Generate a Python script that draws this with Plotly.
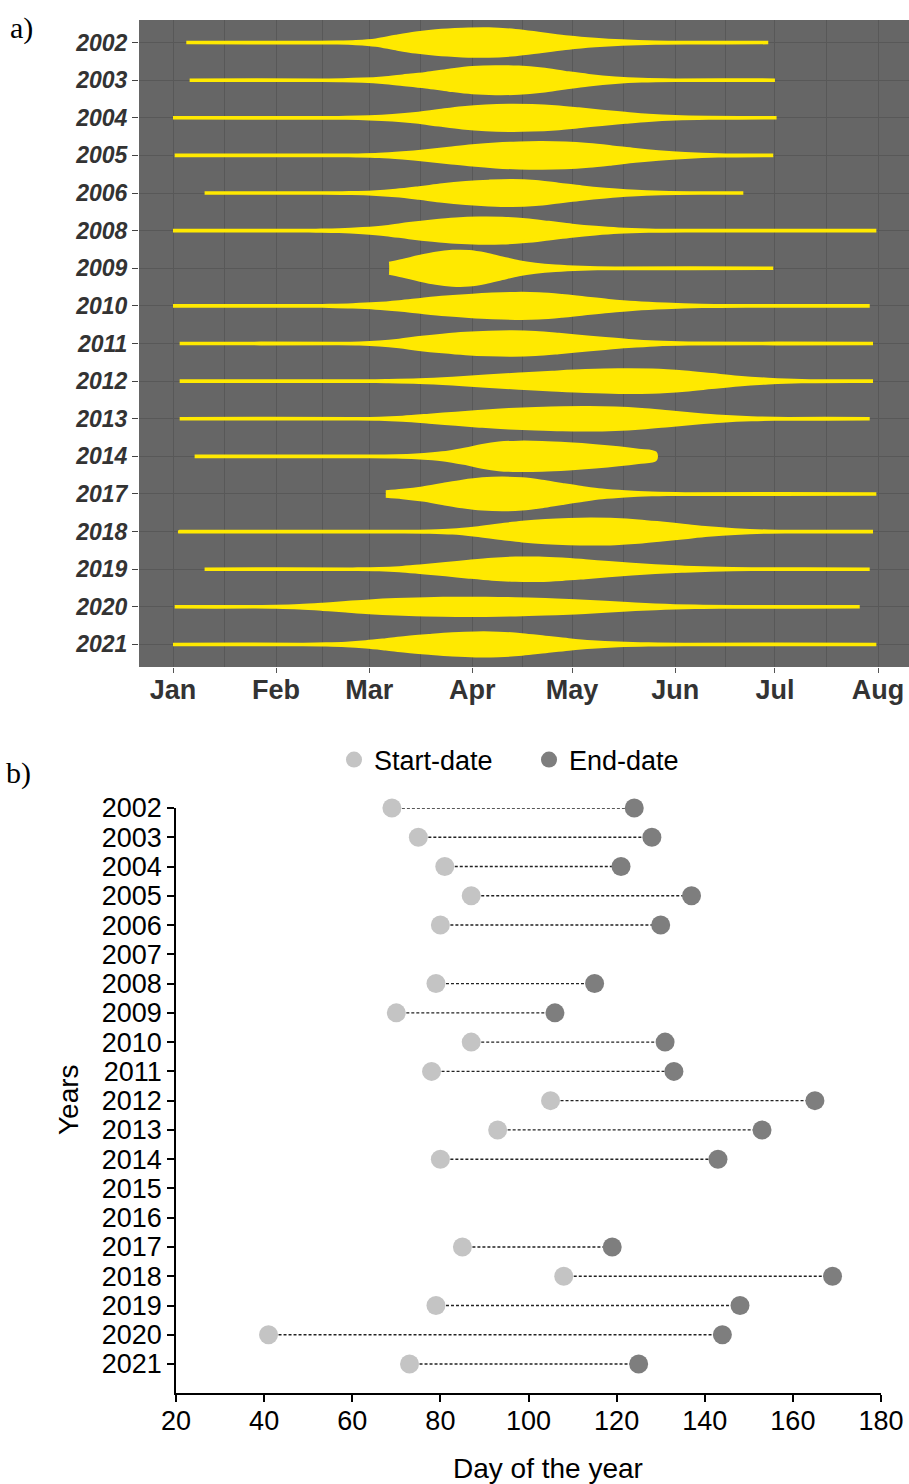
import plotly.graph_objects as go

# ---------------- Panel a: violin density profiles ----------------
violin_years = ["2002", "2003", "2004", "2005", "2006", "2008", "2009", "2010",
                "2011", "2012", "2013", "2014", "2017", "2018", "2019", "2020", "2021"]

# day of year (Jan 1 = 1) and relative density (half-width units)
days_2002 = [5, 40, 50, 56, 62, 68, 74, 80, 88, 96, 104, 112, 120, 128, 136, 146, 158, 180]
dens_2002 = [0, 0, 0.2, 0.8, 2.4, 6, 9.2, 11.5, 13, 13.4, 11.8, 8.6, 5.3, 3, 1.4, 0.3, 0, 0]
days_2003 = [6, 45, 52, 58, 64, 70, 77, 84, 91, 98, 105, 112, 119, 126, 134, 142, 152, 182]
dens_2003 = [0, 0, 0.2, 0.8, 2, 4, 6.5, 9.7, 12.3, 13.2, 12.8, 10.8, 7.5, 4.5, 2, 0.6, 0, 0]
days_2004 = [1, 45, 53, 60, 67, 74, 81, 88, 95, 102, 109, 116, 123, 130, 137, 144, 152, 162, 182.5]
dens_2004 = [0, 0, 0.2, 0.8, 2, 4, 7, 9.8, 11.6, 12.3, 12, 10.8, 8.7, 6.3, 4.2, 2.3, 0.9, 0.2, 0]
days_2005 = [1.5, 48, 56, 63, 70, 77, 84, 91, 98, 105, 112, 119, 126, 133, 140, 147, 155, 165, 181.5]
dens_2005 = [0, 0, 0.2, 0.8, 2.4, 4.5, 7, 9.4, 11.2, 12.2, 12.5, 12, 10.5, 8.2, 5.6, 3.5, 1.7, 0.4, 0]
days_2006 = [10.5, 46, 54, 61, 68, 75, 82, 89, 96, 103, 110, 117, 124, 131, 139, 148, 160, 172.5]
dens_2006 = [0, 0, 0.2, 0.8, 2.4, 5, 8, 10.2, 11.6, 12.2, 11.2, 8.6, 5.8, 3.6, 1.7, 0.5, 0, 0]
days_2008 = [1, 36, 44, 51, 58, 65, 72, 79, 86, 93, 100, 107, 114, 121, 128, 135, 144, 155, 212.5]
dens_2008 = [0, 0, 0.2, 0.6, 1.8, 3.7, 6.8, 9.4, 11.4, 12.3, 12.1, 10.6, 8, 5.2, 3, 1.4, 0.4, 0, 0]
days_2009 = [66, 70, 75, 80, 85, 90, 95, 100, 105, 110, 116, 124, 134, 181.5]
dens_2009 = [4.7, 7.5, 11.5, 14.8, 16.6, 16.5, 14, 10, 6.2, 3.8, 2, 0.7, 0, 0]
days_2010 = [1, 40, 48, 55, 62, 69, 76, 83, 90, 97, 104, 111, 118, 125, 132, 140, 149, 160, 175, 210.5]
dens_2010 = [0, 0, 0.3, 0.9, 2, 3.9, 6.3, 8.5, 10.2, 11.5, 12.2, 11.9, 10.1, 7.6, 5.2, 3, 1.5, 0.4, 0, 0]
days_2011 = [3, 50, 57, 63, 69, 75, 82, 89, 96, 103, 110, 117, 124, 131, 138, 146, 156, 211.5]
dens_2011 = [0, 0, 0.3, 1.2, 3, 5.6, 8, 9.9, 11, 11.4, 10.8, 9, 6.8, 4.6, 2.7, 1.1, 0.2, 0]
days_2012 = [3, 55, 65, 75, 85, 95, 105, 115, 125, 135, 145, 155, 163, 171, 180, 190, 211.5]
dens_2012 = [0, 0, 0.3, 1, 2.6, 4.8, 6.8, 8.6, 10.2, 11.1, 10.8, 8.8, 6.2, 3.6, 1.6, 0.3, 0]
days_2013 = [3, 55, 63, 70, 78, 86, 94, 102, 110, 118, 126, 134, 142, 150, 158, 166, 175, 186, 210.5]
dens_2013 = [0, 0, 0.3, 1.3, 3.2, 5.3, 7.3, 8.9, 10, 10.8, 11, 10.4, 8.9, 6.6, 4.2, 2.2, 0.8, 0, 0]
days_2014 = [7.5, 60, 68, 74, 79, 84, 89, 94, 99, 105, 112, 120, 128, 135, 141, 146]
dens_2014 = [0, 0, 0.3, 1, 2.2, 4, 7, 10.6, 13, 13.9, 13.6, 12.3, 10.4, 8.2, 5.8, 3.3]
days_2017 = [65, 70, 76, 82, 88, 94, 100, 106, 112, 118, 124, 130, 137, 145, 155, 212.5]
dens_2017 = [2, 3.4, 5.8, 9.2, 12.5, 14.8, 15.6, 14.8, 12.4, 9.2, 6.2, 3.6, 1.8, 0.6, 0, 0]
days_2018 = [3, 70, 78, 85, 92, 99, 106, 113, 120, 127, 134, 141, 148, 155, 162, 170, 180, 211.5]
dens_2018 = [0, 0, 0.3, 1.2, 3.4, 6.3, 9, 10.9, 11.9, 12.2, 11.8, 10.4, 8.2, 5.8, 3.5, 1.6, 0.3, 0]
days_2019 = [10.5, 55, 63, 69, 76, 83, 90, 97, 104, 111, 118, 125, 132, 139, 146, 154, 163, 175, 210.5]
dens_2019 = [0, 0, 0.3, 1.2, 3.2, 5.3, 7.7, 9.7, 10.8, 10.9, 9.9, 8.2, 6.3, 4.6, 3.1, 1.8, 0.8, 0.1, 0]
days_2020 = [1.5, 25, 32, 39, 46, 53, 60, 68, 77, 86, 95, 104, 113, 122, 131, 140, 149, 158, 170, 207.5]
dens_2020 = [0, 0, 0.2, 0.9, 2.3, 4, 5.6, 6.9, 7.8, 8.3, 8.3, 7.8, 7, 5.8, 4.2, 2.5, 1.2, 0.4, 0, 0]
days_2021 = [1, 40, 47, 53, 59, 65, 71, 78, 85, 92, 99, 106, 113, 120, 127, 135, 144, 155, 212.5]
dens_2021 = [0, 0, 0.3, 1, 2.4, 4.4, 6.6, 8.6, 10.3, 11.2, 11, 9.5, 7, 4.5, 2.5, 1.1, 0.3, 0, 0]

violin_days = [days_2002, days_2003, days_2004, days_2005, days_2006, days_2008, days_2009,
               days_2010, days_2011, days_2012, days_2013, days_2014, days_2017, days_2018,
               days_2019, days_2020, days_2021]
violin_dens = [dens_2002, dens_2003, dens_2004, dens_2005, dens_2006, dens_2008, dens_2009,
               dens_2010, dens_2011, dens_2012, dens_2013, dens_2014, dens_2017, dens_2018,
               dens_2019, dens_2020, dens_2021]

month_names = ["Jan", "Feb", "Mar", "Apr", "May", "Jun", "Jul", "Aug"]
month_start_doy = [1, 32, 60, 91, 121, 152, 182, 213]
mid_month_doy = [16.5, 46, 75.5, 106, 136.5, 167, 197.5]

# ---------------- Panel b: start / end dates ----------------
dumbbell_years = [2002, 2003, 2004, 2005, 2006, 2008, 2009, 2010, 2011, 2012,
                  2013, 2014, 2017, 2018, 2019, 2020, 2021]
start_doy = [69, 75, 81, 87, 80, 79, 70, 87, 78, 105, 93, 80, 85, 108, 79, 41, 73]
end_doy = [124, 128, 121, 137, 130, 115, 106, 131, 133, 165, 153, 143, 119, 169, 148, 144, 125]
year_ticks = list(range(2002, 2022))
doy_ticks = [20, 40, 60, 80, 100, 120, 140, 160, 180]

# ---------------- styling ----------------
W, H = 909, 1484
SANS = "Liberation Sans, Arial, sans-serif"
SERIF = "Liberation Serif, Times New Roman, serif"
YEL = "#FFE900"
PANEL_BG = "#666666"
GRID = "#585858"
ROW_PX = 37.6          # pixel height of one violin row
WSCALE = 1.0 / ROW_PX  # density unit -> row units

fig = go.Figure()

for i, (d, v) in enumerate(zip(violin_days, violin_dens)):
    xs = list(d) + list(d[::-1])
    ys = [i + w * WSCALE for w in v] + [i - w * WSCALE for w in v[::-1]]
    fig.add_trace(go.Scatter(
        x=xs, y=ys, mode="lines", fill="toself", fillcolor=YEL,
        line=dict(color=YEL, width=3.6, shape="spline", smoothing=1.0),
        xaxis="x", yaxis="y", showlegend=False, hoverinfo="skip"))

# dashed connectors
lx, ly = [], []
for yr, s, e in zip(dumbbell_years, start_doy, end_doy):
    lx += [s, e, None]
    ly += [yr, yr, None]
fig.add_trace(go.Scatter(x=lx, y=ly, mode="lines",
                         line=dict(color="#222222", width=1.4, dash="3px,2px"),
                         xaxis="x2", yaxis="y2", showlegend=False, hoverinfo="skip",
                         cliponaxis=False))
fig.add_trace(go.Scatter(x=start_doy, y=dumbbell_years, mode="markers", name="Start-date",
                         marker=dict(color="#C4C4C4", size=19),
                         xaxis="x2", yaxis="y2", cliponaxis=False))
fig.add_trace(go.Scatter(x=end_doy, y=dumbbell_years, mode="markers", name="End-date",
                         marker=dict(color="#7E7E7E", size=19),
                         xaxis="x2", yaxis="y2", cliponaxis=False))

def px_x(p):
    return p / W

def px_y(p):
    return 1 - p / H

a_left, a_right, a_top, a_bottom = 139, 909, 20, 667
jan_px, aug_px = 173, 878
ppd = (aug_px - jan_px) / (213 - 1)
xr_a = [1 + (a_left - jan_px) / ppd, 1 + (a_right - jan_px) / ppd]

fig.update_layout(
    width=W, height=H,
    margin=dict(l=0, r=0, t=0, b=0, pad=0, autoexpand=False),
    paper_bgcolor="white", plot_bgcolor="white",
    font=dict(family=SANS, color="black"),
    xaxis=dict(domain=[px_x(a_left), 1], range=xr_a, anchor="y",
               tickmode="array", tickvals=month_start_doy, ticktext=month_names,
               ticks="outside", ticklen=5, tickwidth=1.3, tickcolor="#555555",
               ticklabelstandoff=-6,
               tickfont=dict(family=SANS, size=27, color="#333333", weight="bold"),
               showgrid=True, gridcolor=GRID, gridwidth=1.4, zeroline=False, showline=False,
               automargin=False,
               minor=dict(tickmode="array", tickvals=mid_month_doy, showgrid=True,
                          gridcolor=GRID, gridwidth=0.9, ticks="")),
    yaxis=dict(domain=[px_y(a_bottom), px_y(a_top)], range=[16.6, -0.6], anchor="x",
               tickmode="array", tickvals=list(range(len(violin_years))), ticktext=violin_years,
               ticks="outside", ticklen=6, tickwidth=1.3, tickcolor="#444444",
               tickfont=dict(family=SANS, size=23, color="#333333", weight="bold", style="italic"),
               showgrid=True, gridcolor=GRID, gridwidth=1.4, zeroline=False, showline=False,
               automargin=False),
    xaxis2=dict(domain=[px_x(176), px_x(881)], range=[20, 180], anchor="y2",
                tickmode="array", tickvals=doy_ticks,
                ticks="outside", ticklen=7, tickwidth=1.5, tickcolor="black",
                ticklabelstandoff=-5,
                tickfont=dict(family=SANS, size=27, color="black"),
                showline=True, linecolor="black", linewidth=1.6,
                showgrid=False, zeroline=False, automargin=False),
    yaxis2=dict(domain=[px_y(1393.3), px_y(808)], range=[2022, 2002], anchor="x2",
                tickmode="array", tickvals=year_ticks,
                ticks="outside", ticklen=7, tickwidth=1.5, tickcolor="black",
                tickfont=dict(family=SANS, size=27, color="black"),
                showline=True, linecolor="black", linewidth=1.6,
                showgrid=False, zeroline=False, automargin=False),
    legend=dict(orientation="h", x=px_x(334), xanchor="left", y=px_y(760), yanchor="middle",
                font=dict(family=SANS, size=27, color="black"), bgcolor="rgba(0,0,0,0)",
                itemsizing="trace", entrywidth=150),
    shapes=[dict(type="rect", xref="x domain", yref="y domain", x0=0, x1=1, y0=0, y1=1,
                 fillcolor=PANEL_BG, line=dict(width=0), layer="below")],
    annotations=[
        dict(text="a)", x=px_x(8), y=px_y(28), xref="paper", yref="paper",
             xanchor="left", yanchor="middle", showarrow=False,
             font=dict(family=SERIF, size=30, color="black")),
        dict(text="b)", x=px_x(4), y=px_y(773), xref="paper", yref="paper",
             xanchor="left", yanchor="middle", showarrow=False,
             font=dict(family=SERIF, size=30, color="black")),
        dict(text="Years", x=px_x(68), y=px_y(1100), xref="paper", yref="paper",
             xanchor="center", yanchor="middle", showarrow=False, textangle=-90,
             font=dict(family=SANS, size=28, color="black")),
        dict(text="Day of the year", x=px_x(548), y=px_y(1468), xref="paper", yref="paper",
             xanchor="center", yanchor="middle", showarrow=False,
             font=dict(family=SANS, size=28, color="black")),
    ],
)

fig.write_html("out.html")
